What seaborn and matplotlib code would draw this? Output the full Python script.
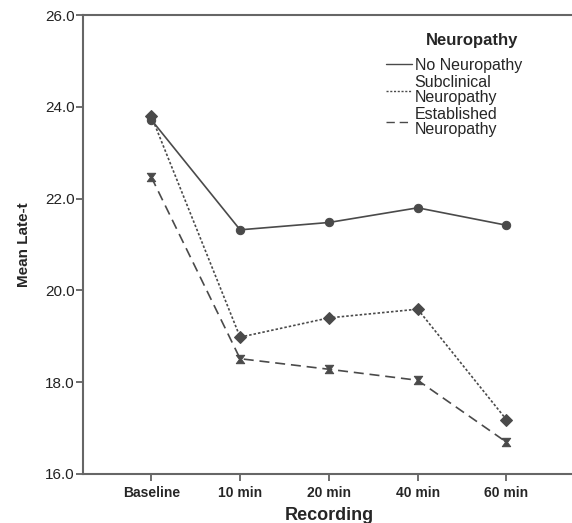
import numpy as np
import pandas as pd
import seaborn as sns
import matplotlib.pyplot as plt
from matplotlib.path import Path
from matplotlib.lines import Line2D

# values
recordings = ["Baseline", "10 min", "20 min", "40 min", "60 min"]
groups = ["No Neuropathy", "Subclinical\nNeuropathy", "Established\nNeuropathy"]
no_neuro = [23.72, 21.32, 21.48, 21.80, 21.42]
subclinical = [23.80, 18.98, 19.40, 19.59, 17.18]
established = [22.47, 18.51, 18.28, 18.04, 16.69]

df = pd.DataFrame({
    "Recording": recordings * 3,
    "Mean Late-t": no_neuro + subclinical + established,
    "Neuropathy": [g for g in groups for _ in recordings],
})

sns.set_style("white")
plt.rcParams["font.family"] = ["Liberation Sans", "DejaVu Sans"]

# hourglass marker
hourglass = Path([(-1, 1), (1, 1), (0.25, 0), (1, -1), (-1, -1), (-0.25, 0), (-1, 1)],
                 [Path.MOVETO] + [Path.LINETO] * 5 + [Path.CLOSEPOLY])

col = "#4a4a4a"
dot = (1.5, 1.2)
dash = (6, 3.5)
markers = {groups[0]: "o", groups[1]: "D", groups[2]: hourglass}
dashes = {groups[0]: "", groups[1]: dot, groups[2]: dash}

fig = plt.figure(figsize=(5.72, 5.23), dpi=100)
ax = fig.add_axes([0.145, 0.094, 0.86, 0.877])

sns.lineplot(data=df, x="Recording", y="Mean Late-t", hue="Neuropathy", style="Neuropathy",
             palette=[col] * 3, markers=markers, dashes=dashes, sort=False,
             markersize=6, markeredgecolor=col, linewidth=1.2, legend=False, ax=ax)

ax.set_xlim(-0.77, 4.77)
ax.set_ylim(16, 26)
yt = [16, 18, 20, 22, 24, 26]
ax.set_yticks(yt)
ax.set_yticklabels([f"{v:.1f}" for v in yt], fontsize=11, color="#222222")
ax.set_xticks(range(len(recordings)))
ax.set_xticklabels(recordings, fontsize=10, fontweight="bold")
ax.tick_params(axis="both", direction="out", length=5, width=1.2, color="#555555", bottom=True, left=True)
ax.tick_params(axis="y", pad=1)
ax.tick_params(axis="x", pad=4)

for s in ["left", "bottom", "top"]:
    ax.spines[s].set_color("#666666")
    ax.spines[s].set_linewidth(1.5)
ax.spines["right"].set_visible(False)

ax.set_xlabel("Recording", fontsize=13, fontweight="bold", labelpad=5)
ax.set_ylabel("Mean Late-t", fontsize=11, fontweight="bold", labelpad=10)

# legend without markers, title placed as a separate text
handles = [Line2D([], [], color=col, linewidth=1.0),
           Line2D([], [], color=col, linewidth=1.0, dashes=dot),
           Line2D([], [], color=col, linewidth=1.0, dashes=dash)]
leg = ax.legend(handles, groups, loc="upper left",
                bbox_to_anchor=(386 / 572, 1 - 58 / 523), bbox_transform=fig.transFigure,
                frameon=False, fontsize=11.5, handlelength=1.6, handletextpad=0.2,
                labelspacing=0.15, borderpad=0, borderaxespad=0)
for t in leg.get_texts():
    t.set_linespacing(0.95)
fig.text(472 / 572, 1 - 40 / 523, "Neuropathy", fontsize=12, fontweight="bold",
         ha="center", va="center")

fig.savefig("out.png", dpi=100)
